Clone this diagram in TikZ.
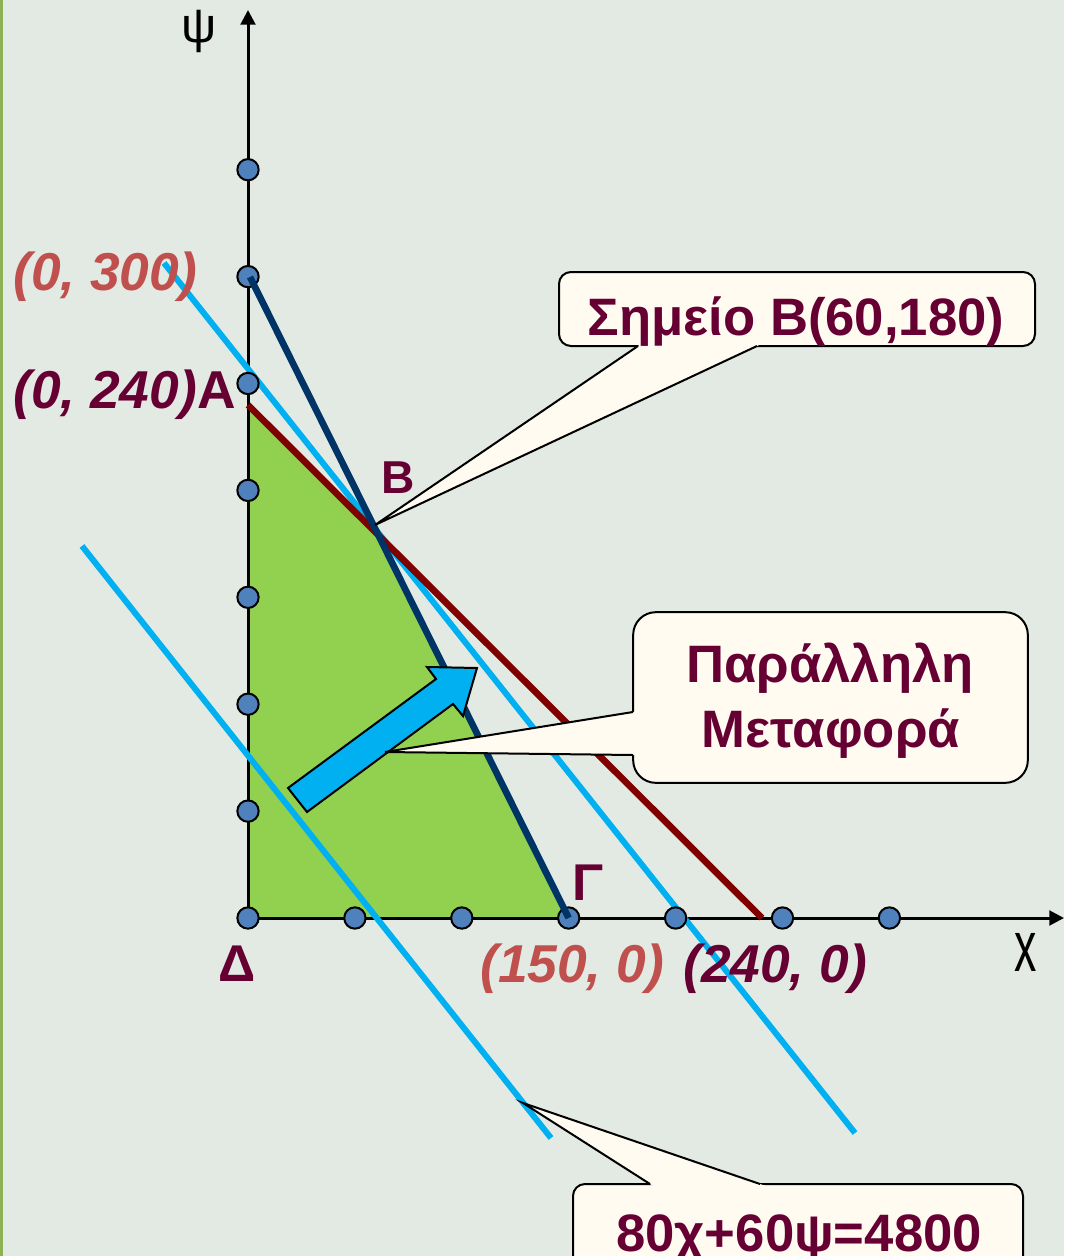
\documentclass[tikz,border=0pt]{standalone}
\usepackage{fontspec}
\setmainfont{Liberation Sans}
\usetikzlibrary{calc,arrows.meta}
\definecolor{bg}{HTML}{E3E9E3}
\definecolor{edgegreen}{HTML}{8DB255}
\definecolor{feas}{HTML}{92D050}
\definecolor{maroon}{HTML}{660033}
\definecolor{coordred}{HTML}{C0504D}
\definecolor{conred}{HTML}{800000}
\definecolor{navy}{HTML}{003366}
\definecolor{sky}{HTML}{00B0F0}
\definecolor{dotblue}{HTML}{4F81BD}
\definecolor{cream}{HTML}{FFFBF0}
\begin{document}
\begin{tikzpicture}[x=0.75pt,y=-0.75pt,
  axisline/.style={line width=2.25pt,-{Triangle[width=11pt,length=11pt]}},
  dot/.style={circle,fill=dotblue,draw=black,line width=1.5pt,minimum size=16pt,inner sep=0pt},
  lbl/.style={font=\bfseries\fontsize{38.8}{46}\selectfont,text=maroon,inner sep=0pt},
  coordlbl/.style={font=\bfseries\itshape\fontsize{40}{48}\selectfont,inner sep=0pt},
  calloutbox/.style={draw=black,fill=cream,line width=1.5pt,rectangle,inner sep=0pt},
  callouttext/.style={font=\bfseries\fontsize{39.5}{48}\selectfont,text=maroon,inner sep=0pt},
  thinline/.style={draw=black,line width=1.5pt,line join=miter}]
\useasboundingbox (0,0) rectangle (1064,1256);
\clip (0,0) rectangle (1064,1256);
\fill[bg] (0,0) rectangle (1064,1256);
\fill[edgegreen] (0,0) rectangle (2.5,1256);

% key coordinates
\coordinate (O) at (248,918);
\coordinate (A) at (248,405);
\coordinate (B) at (376,532);
\coordinate (G) at (568.7,918);
\coordinate (R) at (762,918);
\coordinate (N0) at (250,277);
\coordinate (S1a) at (164,263);
\coordinate (S1b) at (855,1133);
\coordinate (S2a) at (82,546);
\coordinate (S2b) at (551,1138);
\coordinate (Ytop) at (248,10);
\coordinate (Xend) at (1064,918);

% feasible region
\fill[feas] (O) -- (A) -- (B) -- (G) -- cycle;

% axes
\draw[axisline] (248,920) -- (Ytop);
\draw[axisline] (O) -- (Xend);

% iso-profit lines and constraints
\draw[sky,line width=4.5pt] (S1a) -- (S1b);
\draw[sky,line width=4.5pt] (S2a) -- (S2b);
\draw[conred,line width=5pt] (A) -- (R);

% dots
\foreach \k [count=\i] in {1,...,7} {
  \node[dot] (yd\i) at (248,{918-106.9*\k}) {};
}
\node[dot] (od) at (O) {};
\foreach \k [count=\i] in {1,...,6} {
  \node[dot] (xd\i) at ({248+106.9*\k},918) {};
}

\draw[navy,line width=5pt] (N0) -- (G);

% fat arrow
\draw[fill=sky,draw=black,line width=1.5pt,line join=miter]
  (288,788) -- (436,679) -- (427,667) -- (477,668) -- (463,716) -- (453,704) -- (307,812) -- cycle;

% callout 1
\node[calloutbox,rounded corners=9pt,minimum width=357pt,minimum height=55.5pt] (box1) at (797,309) {};
\coordinate (c1t) at (375,525);
\coordinate (c1a) at (638,346);
\coordinate (c1b) at (757,346);
\fill[cream] (c1t) -- ($(c1t)!1.04!(c1a)$) -- ($(c1t)!1.04!(c1b)$) -- cycle;
\draw[thinline] (c1a) -- (c1t) -- (c1b);
\node[callouttext,anchor=base] (t1) at (796,335) {Σημείο Β(60,180)};

% callout 2
\node[calloutbox,rounded corners=17pt,minimum width=296pt,minimum height=128pt] (box2) at (830.5,697.5) {};
\coordinate (c2t) at (385,752);
\coordinate (c2a) at (633,712);
\coordinate (c2b) at (633,755);
\fill[cream] (c2t) -- ($(c2t)!1.03!(c2a)$) -- ($(c2t)!1.03!(c2b)$) -- cycle;
\draw[thinline] (c2a) -- (c2t) -- (c2b);
\node[callouttext,anchor=base] (t2a) at (830,682) {Παράλληλη};
\node[callouttext,anchor=base] (t2b) at (831,747) {Μεταφορά};

% callout 3
\node[calloutbox,rounded corners=9pt,minimum width=337.5pt,minimum height=90pt] (box3) at (798,1244) {};
\coordinate (c3t) at (523,1103);
\coordinate (c3a) at (650,1184);
\coordinate (c3b) at (760,1184);
\fill[cream] (c3t) -- ($(c3t)!1.05!(c3a)$) -- ($(c3t)!1.05!(c3b)$) -- cycle;
\draw[thinline] (c3a) -- (c3t) -- (c3b);
\node[callouttext,anchor=base] (t3) at (799,1251) {80χ+60ψ=4800};

% labels
\node[inner sep=0pt,font=\fontsize{37}{44}\selectfont,anchor=base] (psi) at (199,43) {ψ};
\node[inner sep=0pt,font=\fontsize{54}{60}\selectfont] (xl) at (1026,952) {\scalebox{0.62}[1]{x}};
\node[coordlbl,text=coordred,anchor=base west] (p300) at (13,290) {(0, 300)};
\node[coordlbl,text=maroon,anchor=base west] (p240) at (13,408) {(0, 240)\upshape Α};
\node[coordlbl,text=coordred,anchor=base west] (p150) at (480,982) {(150, 0)};
\node[coordlbl,text=maroon,anchor=base west] (p240x) at (683,982) {(240, 0)};
\node[lbl,anchor=base,font=\bfseries\fontsize{34.6}{40}\selectfont] (Bl) at (398,493) {Β};
\node[lbl,anchor=base] (Gl) at (588,900) {Γ};
\node[lbl,anchor=base] (Dl) at (237,981) {Δ};
\end{tikzpicture}
\end{document}
